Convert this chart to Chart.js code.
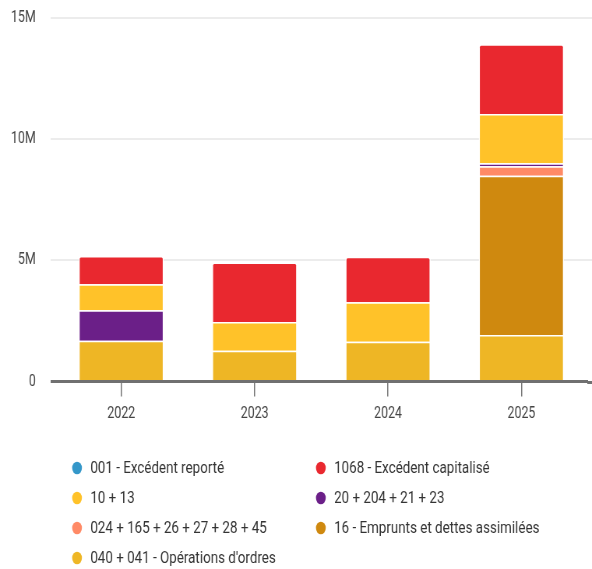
<!DOCTYPE html>
<html><head><meta charset="utf-8">
<script src="https://cdn.jsdelivr.net/npm/chart.js@4/dist/chart.umd.min.js"></script>
<style>
html,body{margin:0;padding:0;overflow:hidden;background:#fff;width:592px;height:569px}
#wrap{width:760px;height:569px;transform:scaleX(0.7789);transform-origin:0 0}
canvas{display:block}
</style></head><body>
<div id="wrap"><canvas id="c" width="760" height="569"></canvas></div>
<script>
// Categories
const years = ['2022', '2023', '2024', '2025'];

// Series (values in euros)
const s001 = [0, 0, 0, 0];
const s1068 = [1165000, 2450000, 1885000, 2880000];
const s1013 = [1075000, 1190000, 1630000, 2040000];
const s20 = [1255000, 0, 0, 120000];
const s024 = [0, 0, 0, 390000];
const s16 = [0, 0, 0, 6580000];
const s040 = [1685000, 1270000, 1640000, 1920000];

// Legend labels (legend order)
const names = [
  '001 - Excédent reporté',
  '1068 - Excédent capitalisé',
  '10 + 13',
  '20 + 204 + 21 + 23',
  '024 + 165 + 26 + 27 + 28 + 45',
  '16 - Emprunts et dettes assimilées',
  '040 + 041 - Opérations d\'ordres'
];
const colors = ['#3497c9', '#e9282f', '#ffc229', '#6b1f88', '#ff8a66', '#cf890f', '#eeb625'];
const values = [s001, s1068, s1013, s20, s024, s16, s040];

// Y tick values
const yTicks = [0, 5000000, 10000000, 15000000];

const gridColor = v => v === 0 ? '#707070' : '#ececec';
const gridWidth = v => v === 0 ? 3 : 2;

// stacking order: bottom-up is reverse of legend order
const datasets = [];
for (let i = names.length - 1; i >= 0; i--) {
  datasets.push({
    label: names[i],
    data: values[i],
    backgroundColor: colors[i],
    borderColor: '#ffffff',
    borderWidth: 1.5,
    borderRadius: 3,
    barPercentage: 0.8,
    categoryPercentage: 0.8
  });
}

// extend horizontal grid lines to the right edge
const gridExtend = {
  id: 'gridExtend',
  beforeDatasetsDraw(chart) {
    const ctx = chart.ctx, y = chart.scales.y, a = chart.chartArea;
    ctx.save();
    y.ticks.forEach(t => {
      const py = Math.round(y.getPixelForValue(t.value)) + (gridWidth(t.value) % 2 ? 0.5 : 0);
      ctx.strokeStyle = gridColor(t.value);
      ctx.lineWidth = gridWidth(t.value);
      ctx.beginPath();
      ctx.moveTo(a.right - 1, py);
      ctx.lineTo(chart.width, py);
      ctx.stroke();
    });
    ctx.restore();
  }
};

const legendPlugin = {
  id: 'twoColLegend',
  afterDraw(chart) {
    const ctx = chart.ctx;
    const items = chart.data.datasets.slice().reverse();
    ctx.save();
    ctx.font = '17.2px Roboto';
    ctx.textBaseline = 'middle';
    ctx.textAlign = 'left';
    items.forEach((ds, k) => {
      const col = k % 2, row = Math.floor(k / 2);
      const cx = col ? 411.9 : 98.9;
      const cy = 468 + row * 30;
      ctx.fillStyle = ds.backgroundColor;
      ctx.beginPath();
      ctx.arc(cx, cy, 6.3, 0, Math.PI * 2);
      ctx.fill();
      ctx.fillStyle = '#333';
      ctx.fillText(ds.label, cx + 17, cy + 1);
    });
    ctx.restore();
  }
};

new Chart(document.getElementById('c'), {
  type: 'bar',
  data: { labels: years, datasets },
  options: {
    responsive: false,
    animation: false,
    devicePixelRatio: 1,
    layout: { padding: { top: 18.3, right: 5, bottom: 147.5, left: 0 } },
    plugins: { legend: { display: false }, tooltip: { enabled: false } },
    scales: {
      x: {
        stacked: true,
        offset: true,
        grid: { offset: false, drawOnChartArea: false, drawTicks: true, tickLength: 15, color: '#777', lineWidth: 1.5 },
        border: { display: false },
        ticks: { color: '#444', font: { family: 'Roboto', size: 16 }, padding: 8 },
        afterFit(s) { s.height = 40; }
      },
      y: {
        stacked: true,
        min: 0,
        max: 15000000,
        afterBuildTicks(s) { s.ticks = yTicks.map(v => ({ value: v })); },
        ticks: {
          color: '#444',
          font: { family: 'Roboto', size: 16 },
          padding: 19,
          callback: v => v === 0 ? '0' : (v / 1000000) + 'M'
        },
        grid: {
          drawTicks: true,
          tickLength: 5,
          color: c => gridColor(c.tick ? c.tick.value : 1),
          lineWidth: c => gridWidth(c.tick ? c.tick.value : 1)
        },
        border: { display: false },
        afterFit(s) { s.width = 70; s.paddingTop = 0; s.paddingBottom = 0; }
      }
    }
  },
  plugins: [gridExtend, legendPlugin]
});
</script>
</body></html>
